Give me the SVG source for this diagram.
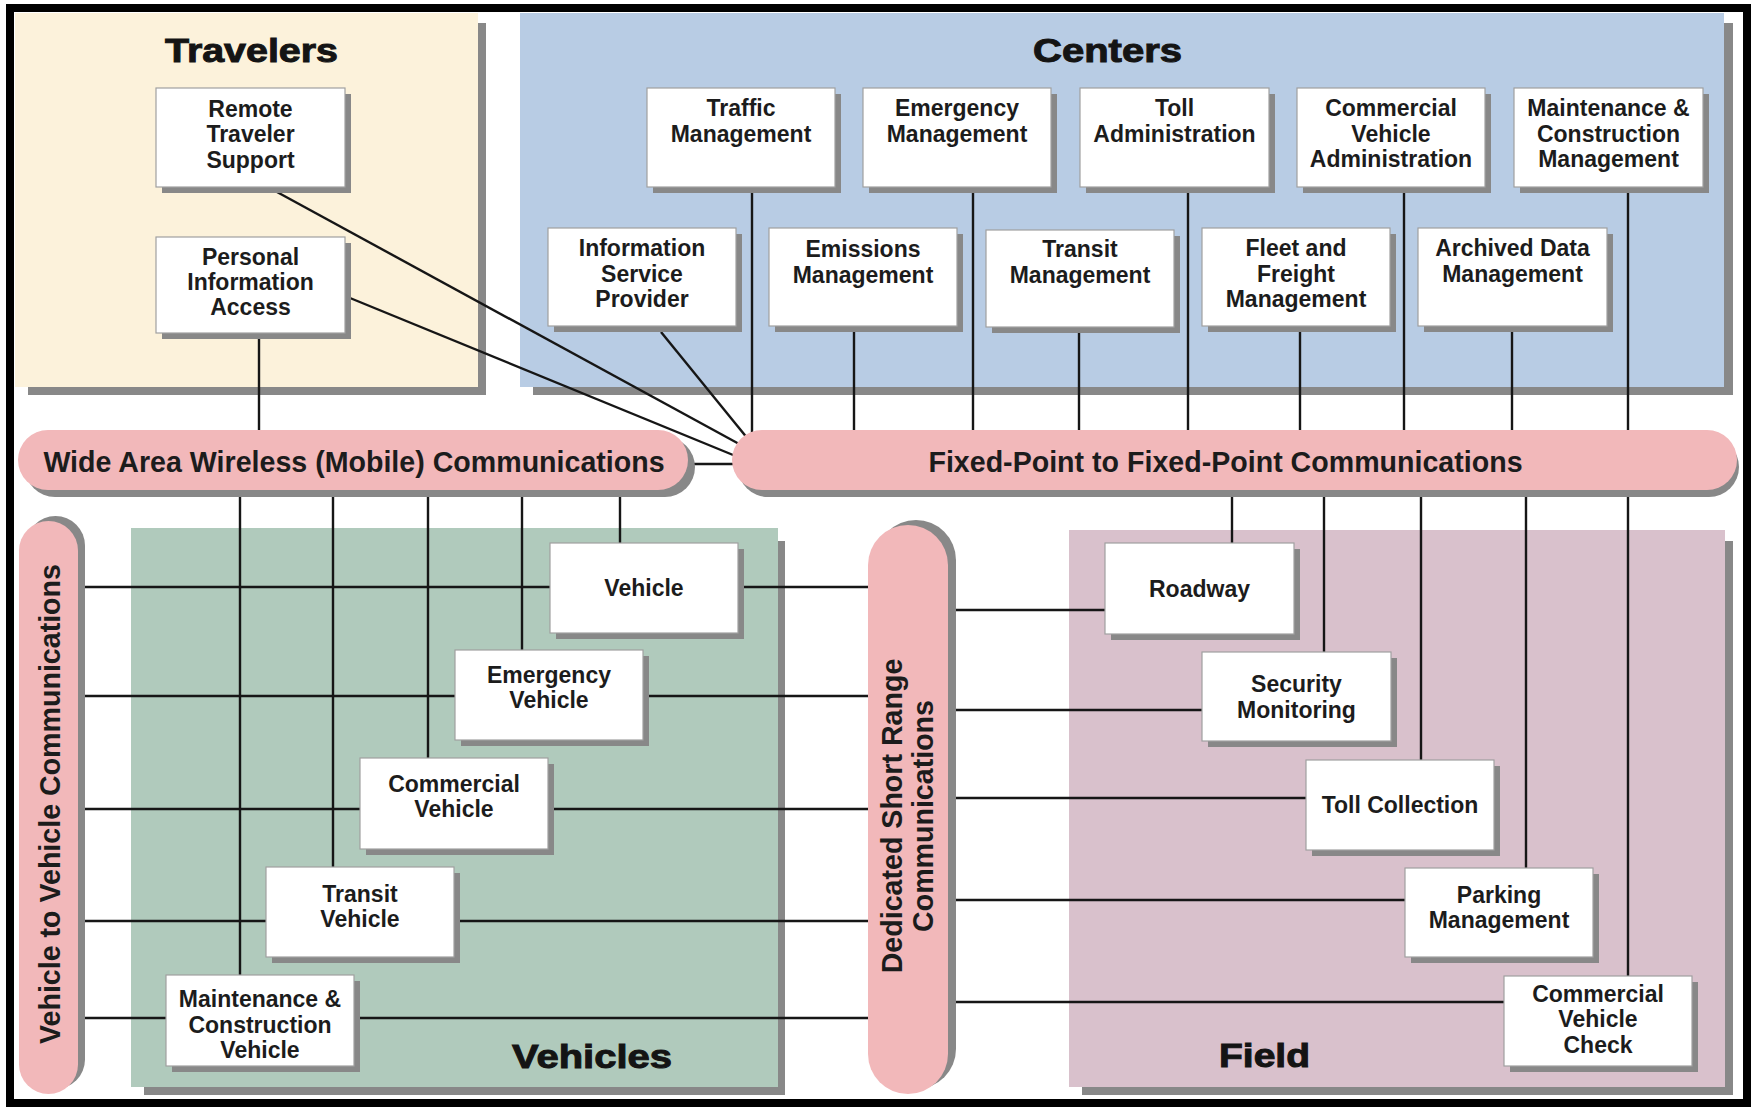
<svg xmlns="http://www.w3.org/2000/svg" width="1753" height="1107" viewBox="0 0 1753 1107">
  <style>
    .sh { fill: #888888; }
    .box { fill: #ffffff; stroke: #a0a0a0; stroke-width: 1.2; }
    .pill { fill: #f2b8ba; }
    .wire { fill: none; stroke: #161616; stroke-width: 2.4; }
    .lbl { font-family: "Liberation Sans", Arial, Helvetica, sans-serif; font-weight: bold; font-size: 23px; fill: #1c1c1c; text-anchor: middle; }
    .bartxt { font-family: "Liberation Sans", Arial, Helvetica, sans-serif; font-weight: bold; font-size: 28.6px; fill: #1c1c1c; text-anchor: middle; }
    .title { font-family: "Liberation Sans", Arial, Helvetica, sans-serif; font-weight: 900; font-size: 34px; fill: #141414; stroke: #141414; stroke-width: 1; text-anchor: middle; }
  </style>

  <rect x="0" y="0" width="1753" height="1107" fill="#ffffff"/>

  <!-- Domain panels -->
  <g id="travelers-panel">
    <rect class="sh" x="28" y="23" width="458" height="372"/>
    <rect x="15" y="13" width="463" height="374" fill="#fcf2db"/>
    <text class="title" x="251.5" y="62" textLength="173" lengthAdjust="spacingAndGlyphs">Travelers</text>
  </g>
  <g id="centers-panel">
    <rect class="sh" x="533" y="23" width="1200" height="372"/>
    <rect x="520" y="13" width="1204" height="374" fill="#b8cce4"/>
    <text class="title" x="1107.5" y="62" textLength="149" lengthAdjust="spacingAndGlyphs">Centers</text>
  </g>
  <g id="vehicles-panel">
    <rect class="sh" x="144" y="541" width="641" height="554"/>
    <rect x="131" y="528" width="647" height="559" fill="#b0cabc"/>
    <text class="title" x="592" y="1068" textLength="160" lengthAdjust="spacingAndGlyphs">Vehicles</text>
  </g>
  <g id="field-panel">
    <rect class="sh" x="1082" y="541" width="651" height="554"/>
    <rect x="1069" y="530" width="656" height="557" fill="#d9c1cc"/>
    <text class="title" x="1264.5" y="1067" textLength="91" lengthAdjust="spacingAndGlyphs">Field</text>
  </g>

  <!-- Connectors -->
  <g id="connectors" class="wire">
    <!-- traveler and ISP links converging on the fixed-point bar -->
    <path d="M277,192 L741,445"/>
    <path d="M350,298 L738,457"/>
    <path d="M661,332 L748,439"/>
    <path d="M259,333 V436"/>
    <path d="M680,464 H745"/>
    <!-- centers down to the fixed-point bar -->
    <path d="M752,187 V436"/>
    <path d="M973,187 V436"/>
    <path d="M1188,187 V436"/>
    <path d="M1404,187 V436"/>
    <path d="M1628,187 V436"/>
    <path d="M854,326 V436"/>
    <path d="M1079,327 V436"/>
    <path d="M1300,326 V436"/>
    <path d="M1512,326 V436"/>
    <!-- wide area wireless down to vehicles -->
    <path d="M240,484 V975"/>
    <path d="M333,484 V867"/>
    <path d="M428,484 V758"/>
    <path d="M522,484 V650"/>
    <path d="M620,484 V543"/>
    <!-- vehicle rows between the two vertical bars -->
    <path d="M72,587 H874"/>
    <path d="M72,696 H874"/>
    <path d="M72,809 H874"/>
    <path d="M72,921 H874"/>
    <path d="M72,1018 H874"/>
    <!-- fixed-point bar down to field -->
    <path d="M1232,484 V543"/>
    <path d="M1324,484 V652"/>
    <path d="M1421,484 V760"/>
    <path d="M1526,484 V868"/>
    <path d="M1628,484 V976"/>
    <!-- DSRC to field -->
    <path d="M944,610 H1105"/>
    <path d="M944,710 H1202"/>
    <path d="M944,798 H1306"/>
    <path d="M944,900 H1405"/>
    <path d="M944,1002 H1504"/>
  </g>

  <!-- Communication bars -->
  <g id="wide-area-wireless">
    <rect class="sh" x="25" y="437" width="670" height="60" rx="30"/>
    <rect class="pill" x="18" y="430" width="670" height="60" rx="30"/>
    <text class="bartxt" x="354" y="472">Wide Area Wireless (Mobile) Communications</text>
  </g>
  <g id="fixed-point">
    <rect class="sh" x="738" y="437" width="1001" height="60" rx="30"/>
    <rect class="pill" x="732" y="430" width="1005" height="60" rx="30"/>
    <text class="bartxt" x="1225.5" y="472">Fixed-Point to Fixed-Point Communications</text>
  </g>
  <g id="vehicle-to-vehicle">
    <rect class="sh" x="26" y="516" width="59" height="573" rx="29.5"/>
    <rect class="pill" x="19" y="521" width="59" height="573" rx="29.5"/>
    <text class="bartxt" transform="translate(60,804) rotate(-90)">Vehicle to Vehicle Communications</text>
  </g>
  <g id="dsrc">
    <rect class="sh" x="876" y="520" width="80" height="569" rx="40"/>
    <rect class="pill" x="868" y="525" width="80" height="569" rx="40"/>
    <text class="bartxt" transform="translate(902,816) rotate(-90)">Dedicated Short Range</text>
    <text class="bartxt" transform="translate(933,816) rotate(-90)">Communications</text>
  </g>

  <!-- Travelers -->
  <g id="remote-traveler-support">
    <rect class="sh" x="162" y="94" width="189" height="99"/>
    <rect class="box" x="156" y="88" width="189" height="99"/>
    <text class="lbl" x="250.5" y="116.5">Remote</text>
    <text class="lbl" x="250.5" y="142">Traveler</text>
    <text class="lbl" x="250.5" y="167.5">Support</text>
  </g>
  <g id="personal-information-access">
    <rect class="sh" x="162" y="243" width="189" height="96"/>
    <rect class="box" x="156" y="237" width="189" height="96"/>
    <text class="lbl" x="250.5" y="265">Personal</text>
    <text class="lbl" x="250.5" y="290">Information</text>
    <text class="lbl" x="250.5" y="315">Access</text>
  </g>

  <!-- Centers, top row -->
  <g id="traffic-management">
    <rect class="sh" x="653" y="94" width="188" height="99"/>
    <rect class="box" x="647" y="88" width="188" height="99"/>
    <text class="lbl" x="741" y="116">Traffic</text>
    <text class="lbl" x="741" y="141.5">Management</text>
  </g>
  <g id="emergency-management">
    <rect class="sh" x="869" y="94" width="188" height="99"/>
    <rect class="box" x="863" y="88" width="188" height="99"/>
    <text class="lbl" x="957" y="116">Emergency</text>
    <text class="lbl" x="957" y="141.5">Management</text>
  </g>
  <g id="toll-administration">
    <rect class="sh" x="1086" y="94" width="189" height="99"/>
    <rect class="box" x="1080" y="88" width="189" height="99"/>
    <text class="lbl" x="1174.5" y="116">Toll</text>
    <text class="lbl" x="1174.5" y="141.5">Administration</text>
  </g>
  <g id="commercial-vehicle-administration">
    <rect class="sh" x="1303" y="94" width="188" height="99"/>
    <rect class="box" x="1297" y="88" width="188" height="99"/>
    <text class="lbl" x="1391" y="116">Commercial</text>
    <text class="lbl" x="1391" y="141.5">Vehicle</text>
    <text class="lbl" x="1391" y="167">Administration</text>
  </g>
  <g id="maintenance-construction-management">
    <rect class="sh" x="1520" y="94" width="189" height="99"/>
    <rect class="box" x="1514" y="88" width="189" height="99"/>
    <text class="lbl" x="1608.5" y="116">Maintenance &amp;</text>
    <text class="lbl" x="1608.5" y="141.5">Construction</text>
    <text class="lbl" x="1608.5" y="167">Management</text>
  </g>

  <!-- Centers, bottom row -->
  <g id="information-service-provider">
    <rect class="sh" x="554" y="234" width="188" height="98"/>
    <rect class="box" x="548" y="228" width="188" height="98"/>
    <text class="lbl" x="642" y="256">Information</text>
    <text class="lbl" x="642" y="281.5">Service</text>
    <text class="lbl" x="642" y="307">Provider</text>
  </g>
  <g id="emissions-management">
    <rect class="sh" x="775" y="234" width="188" height="98"/>
    <rect class="box" x="769" y="228" width="188" height="98"/>
    <text class="lbl" x="863" y="257">Emissions</text>
    <text class="lbl" x="863" y="282.5">Management</text>
  </g>
  <g id="transit-management">
    <rect class="sh" x="992" y="236" width="188" height="97"/>
    <rect class="box" x="986" y="230" width="188" height="97"/>
    <text class="lbl" x="1080" y="257">Transit</text>
    <text class="lbl" x="1080" y="282.5">Management</text>
  </g>
  <g id="fleet-freight-management">
    <rect class="sh" x="1208" y="234" width="188" height="98"/>
    <rect class="box" x="1202" y="228" width="188" height="98"/>
    <text class="lbl" x="1296" y="256">Fleet and</text>
    <text class="lbl" x="1296" y="281.5">Freight</text>
    <text class="lbl" x="1296" y="307">Management</text>
  </g>
  <g id="archived-data-management">
    <rect class="sh" x="1424" y="234" width="189" height="98"/>
    <rect class="box" x="1418" y="228" width="189" height="98"/>
    <text class="lbl" x="1512.5" y="256">Archived Data</text>
    <text class="lbl" x="1512.5" y="281.5">Management</text>
  </g>

  <!-- Vehicles -->
  <g id="vehicle">
    <rect class="sh" x="556" y="549" width="188" height="90"/>
    <rect class="box" x="550" y="543" width="188" height="90"/>
    <text class="lbl" x="644" y="596">Vehicle</text>
  </g>
  <g id="emergency-vehicle">
    <rect class="sh" x="461" y="656" width="188" height="90"/>
    <rect class="box" x="455" y="650" width="188" height="90"/>
    <text class="lbl" x="549" y="683">Emergency</text>
    <text class="lbl" x="549" y="708">Vehicle</text>
  </g>
  <g id="commercial-vehicle">
    <rect class="sh" x="366" y="764" width="188" height="91"/>
    <rect class="box" x="360" y="758" width="188" height="91"/>
    <text class="lbl" x="454" y="792">Commercial</text>
    <text class="lbl" x="454" y="817">Vehicle</text>
  </g>
  <g id="transit-vehicle">
    <rect class="sh" x="272" y="873" width="188" height="90"/>
    <rect class="box" x="266" y="867" width="188" height="90"/>
    <text class="lbl" x="360" y="902">Transit</text>
    <text class="lbl" x="360" y="927">Vehicle</text>
  </g>
  <g id="maintenance-construction-vehicle">
    <rect class="sh" x="172" y="981" width="188" height="91"/>
    <rect class="box" x="166" y="975" width="188" height="91"/>
    <text class="lbl" x="260" y="1007">Maintenance &amp;</text>
    <text class="lbl" x="260" y="1033">Construction</text>
    <text class="lbl" x="260" y="1058">Vehicle</text>
  </g>

  <!-- Field -->
  <g id="roadway">
    <rect class="sh" x="1111" y="549" width="189" height="91"/>
    <rect class="box" x="1105" y="543" width="189" height="91"/>
    <text class="lbl" x="1199.5" y="597">Roadway</text>
  </g>
  <g id="security-monitoring">
    <rect class="sh" x="1208" y="658" width="189" height="89"/>
    <rect class="box" x="1202" y="652" width="189" height="89"/>
    <text class="lbl" x="1296.5" y="692">Security</text>
    <text class="lbl" x="1296.5" y="718">Monitoring</text>
  </g>
  <g id="toll-collection">
    <rect class="sh" x="1312" y="766" width="188" height="90"/>
    <rect class="box" x="1306" y="760" width="188" height="90"/>
    <text class="lbl" x="1400" y="813">Toll Collection</text>
  </g>
  <g id="parking-management">
    <rect class="sh" x="1411" y="874" width="188" height="89"/>
    <rect class="box" x="1405" y="868" width="188" height="89"/>
    <text class="lbl" x="1499" y="903">Parking</text>
    <text class="lbl" x="1499" y="928">Management</text>
  </g>
  <g id="commercial-vehicle-check">
    <rect class="sh" x="1510" y="982" width="188" height="90"/>
    <rect class="box" x="1504" y="976" width="188" height="90"/>
    <text class="lbl" x="1598" y="1002">Commercial</text>
    <text class="lbl" x="1598" y="1027">Vehicle</text>
    <text class="lbl" x="1598" y="1053">Check</text>
  </g>

  <!-- Frame -->
  <rect x="10" y="8" width="1737" height="1095" fill="none" stroke="#000000" stroke-width="8"/>
</svg>
